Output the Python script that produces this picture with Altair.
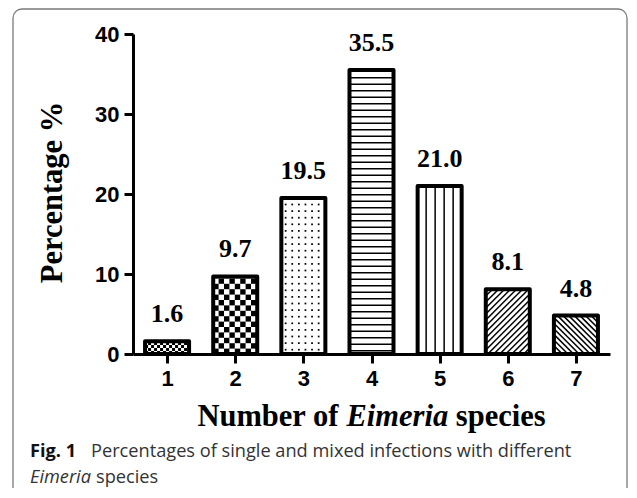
import altair as alt
import numpy as np
import pandas as pd

# ---------------- data ----------------
categories = [1, 2, 3, 4, 5, 6, 7]
percentages = [1.6, 9.7, 19.5, 35.5, 21.0, 8.1, 4.8]
patterns = ["fine_check", "check", "dots", "hlines", "vlines", "diag_up", "diag_down"]
y_ticks = [0, 10, 20, 30, 40]

y_title = "Percentage %"
x_title_parts = ["Number of", "Eimeria", "species"]
caption_bold = "Fig. 1"
caption_line1 = "Percentages of single and mixed infections with different"
caption_line2_italic = "Eimeria"
caption_line2 = "species"

# ---------------- geometry / style ----------------
PLOT_W, PLOT_H = 477, 320
X_DOMAIN = [0.5, 7.5]
Y_DOMAIN = [0, 40]
PX_X = PLOT_W / (X_DOMAIN[1] - X_DOMAIN[0])
PX_Y = PLOT_H / (Y_DOMAIN[1] - Y_DOMAIN[0])
HALF = 0.323
BW = 2 * HALF * PX_X

xscale = alt.Scale(domain=X_DOMAIN, nice=False, zero=False)
yscale = alt.Scale(domain=Y_DOMAIN, nice=False)

xaxis = alt.Axis(
    values=categories, format="d", title=None, labelFont="Liberation Sans", labelFontWeight="bold",
    labelFontSize=22, labelColor="black", labelPadding=5, tickSize=9, tickWidth=3, tickColor="black",
    domainWidth=3, domainColor="black", grid=False, zindex=1, labelFlush=False)
yaxis = alt.Axis(
    values=y_ticks, title=y_title, labelFont="Liberation Sans", labelFontWeight="bold",
    labelFontSize=22, labelColor="black", labelPadding=5, tickSize=9, tickWidth=3, tickColor="black",
    domainWidth=3, domainColor="black", grid=False, zindex=1, labelFlush=False,
    titleFont="Liberation Serif", titleFontSize=30.5, titleFontWeight="bold", titleColor="black",
    titleAngle=270, titleAlign="center", titleBaseline="alphabetic", titleX=-72, titleY=158)

bars = pd.DataFrame({"cat": categories, "pct": percentages})
bars["x_lo"] = bars["cat"] - HALF
bars["x_hi"] = bars["cat"] + HALF
bars["base"] = 0.0


def dxp(cx, px):
    return cx - HALF + px / PX_X


def dyp(px):
    return px / PX_Y


rects, dots, segs = [], [], []
for cx, v, pat in zip(categories, percentages, patterns):
    H = v * PX_Y
    if pat in ("fine_check", "check"):
        c = 3.0 if pat == "fine_check" else 5.4
        nx = int(np.ceil(BW / c))
        ny = int(np.ceil(H / c))
        for j in range(ny):
            for i in range(nx):
                if (i + j) % 2 == 0:
                    rects.append({"x": dxp(cx, i * c), "x2": dxp(cx, min((i + 1) * c, BW)),
                                  "y": dyp(j * c), "y2": dyp(min((j + 1) * c, H))})
    elif pat == "dots":
        s = 6.6
        for yl in np.arange(s / 2 + 1, H - 1, s):
            for xl in np.arange(s / 2 + 1, BW - 1, s):
                dots.append({"x": dxp(cx, xl), "y": dyp(yl)})
    elif pat == "hlines":
        for yl in np.arange(3.2, H, 6.5):
            segs.append({"x": dxp(cx, 0), "x2": dxp(cx, BW), "y": dyp(yl), "y2": dyp(yl)})
    elif pat == "vlines":
        for off in (-13.5, -4.5, 4.5, 13.5):
            xl = BW / 2 + off
            segs.append({"x": dxp(cx, xl), "x2": dxp(cx, xl), "y": 0.0, "y2": dyp(H)})
    elif pat == "diag_up":
        s = 6.0
        for k in np.arange(-BW, H, s):
            x0 = max(0.0, -k)
            x1 = min(BW, H - k)
            if x1 > x0:
                segs.append({"x": dxp(cx, x0), "y": dyp(x0 + k), "x2": dxp(cx, x1), "y2": dyp(x1 + k)})
    elif pat == "diag_down":
        s = 5.6
        for k in np.arange(s / 2, BW + H, s):
            x0 = max(0.0, k - H)
            x1 = min(BW, k)
            if x1 > x0:
                segs.append({"x": dxp(cx, x0), "y": dyp(k - x0), "x2": dxp(cx, x1), "y2": dyp(k - x1)})

rects_df = pd.DataFrame(rects)
dots_df = pd.DataFrame(dots)
segs_df = pd.DataFrame(segs)
one = pd.DataFrame({"k": [0]})

# frame
frame = alt.Chart(one).mark_rect(filled=False, stroke="#7a7a7a", strokeWidth=1.3, cornerRadius=9).encode(
    x=alt.value(-120), x2=alt.value(494), y=alt.value(-25), y2=alt.value(462)
)

bar_fill = alt.Chart(bars).mark_rect(fill="white").encode(
    x=alt.X("x_lo:Q", scale=xscale, axis=xaxis), x2="x_hi:Q",
    y=alt.Y("base:Q", scale=yscale, axis=yaxis), y2="pct:Q",
)

checks = alt.Chart(rects_df).mark_rect(color="black", strokeWidth=0).encode(
    x=alt.X("x:Q", scale=xscale, axis=xaxis), x2="x2:Q",
    y=alt.Y("y:Q", scale=yscale, axis=yaxis), y2="y2:Q",
)

dot_layer = alt.Chart(dots_df).mark_square(color="black", size=3, opacity=1).encode(
    x=alt.X("x:Q", scale=xscale, axis=xaxis),
    y=alt.Y("y:Q", scale=yscale, axis=yaxis),
)

seg_layer = alt.Chart(segs_df).mark_rule(color="black", strokeWidth=1.5).encode(
    x=alt.X("x:Q", scale=xscale, axis=xaxis), x2="x2:Q",
    y=alt.Y("y:Q", scale=yscale, axis=yaxis), y2="y2:Q",
)

outline = alt.Chart(bars).mark_rect(filled=False, stroke="black", strokeWidth=4, strokeJoin="round").encode(
    x=alt.X("x_lo:Q", scale=xscale, axis=xaxis), x2="x_hi:Q",
    y=alt.Y("base:Q", scale=yscale, axis=yaxis), y2="pct:Q",
)

labels = alt.Chart(bars).mark_text(
    font="Liberation Serif", fontWeight="bold", fontSize=26, baseline="alphabetic", dy=-19, color="black"
).encode(
    x=alt.X("cat:Q", scale=xscale, axis=xaxis),
    y=alt.Y("pct:Q", scale=yscale, axis=yaxis),
    text=alt.Text("pct:Q", format=".1f"),
)

# x title pieces (Times-metric widths, em units)
FS = 30.5
w_number_of = 4.638 * FS
w_space = 0.25 * FS
w_eimeria = 3.334 * FS
w_species = 2.944 * FS
total = w_number_of + w_space + w_eimeria + w_space + w_species
x0 = PLOT_W / 2 - total / 2
XT_Y = 392


def title_text(txt, xpos, style="normal"):
    return alt.Chart(one).mark_text(
        text=txt, font="Liberation Serif", fontWeight="bold", fontStyle=style, fontSize=FS,
        align="left", baseline="alphabetic", color="black"
    ).encode(x=alt.value(xpos), y=alt.value(XT_Y))


t1 = title_text(x_title_parts[0], x0)
t2 = title_text(x_title_parts[1], x0 + w_number_of + w_space, "italic")
t3 = title_text(x_title_parts[2], x0 + w_number_of + w_space + w_eimeria + w_space)

CAP_X = -103
CAP_Y1 = 423
CAP_Y2 = 449


def cap_text(txt, xpos, ypos, weight="normal", style="normal", color="#333333"):
    return alt.Chart(one).mark_text(
        text=txt, font="Open Sans", fontSize=18.2, fontWeight=weight, fontStyle=style,
        align="left", baseline="alphabetic", color=color
    ).encode(x=alt.value(xpos), y=alt.value(ypos))


c1 = cap_text(caption_bold, CAP_X, CAP_Y1, weight="bold", color="#111111")
c2 = cap_text(caption_line1, CAP_X + 61, CAP_Y1)
c3 = cap_text(caption_line2_italic, CAP_X, CAP_Y2, style="italic")
c4 = cap_text(caption_line2, CAP_X + 66, CAP_Y2)

chart = alt.layer(
    frame, bar_fill, checks, dot_layer, seg_layer, outline, labels, t1, t2, t3, c1, c2, c3, c4
).properties(
    width=PLOT_W, height=PLOT_H,
    padding={"left": 125, "top": 26, "right": 19, "bottom": 134},
    autosize=alt.AutoSizeParams(type="none"),
).configure_view(stroke=None)

chart.save("out.html", embed_options={"renderer": "svg", "actions": False})
